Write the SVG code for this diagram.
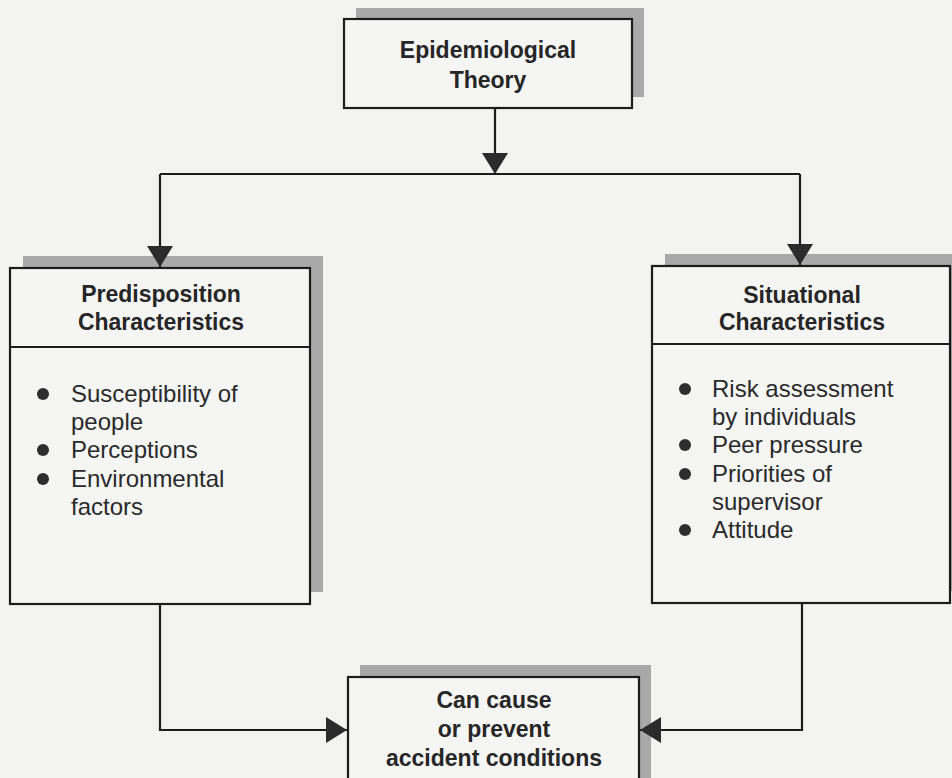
<svg xmlns="http://www.w3.org/2000/svg" width="952" height="778" viewBox="0 0 952 778">
  <style>
    .bg { fill: #f3f3f2; }
    .shadow { fill: #a9a9a9; }
    .box { fill: #f5f5f4; stroke: #1c1c1c; stroke-width: 2.2; }
    .div { stroke: #1c1c1c; stroke-width: 2; }
    .head { font-family: "Liberation Sans", Arial, sans-serif; font-weight: bold; font-size: 23px; fill: #262626; text-anchor: middle; }
    .body { font-family: "Liberation Sans", Arial, sans-serif; font-size: 24px; fill: #2a2a2a; }
    .bullet { fill: #2e2e2e; }
    .conn { fill: none; stroke: #1c1c1c; stroke-width: 2.2; }
  </style>
  <defs>
    <marker id="arrow" markerUnits="userSpaceOnUse" markerWidth="21" markerHeight="26" refX="21" refY="13" orient="auto">
      <path d="M0,0 L21,13 L0,26 z" fill="#2b2b2b"/>
    </marker>
  </defs>
  <rect class="bg" x="0" y="0" width="952" height="778"/>

  <g id="epidemiological-theory">
    <rect class="shadow" x="356" y="8" width="288" height="89"/>
    <rect class="box" x="344" y="19" width="288" height="89"/>
    <text class="head" x="488" y="58">Epidemiological</text>
    <text class="head" x="488" y="88">Theory</text>
  </g>

  <g id="predisposition-characteristics">
    <rect class="shadow" x="23" y="256" width="300" height="336"/>
    <rect class="box" x="10" y="268" width="300" height="336"/>
    <line class="div" x1="10" y1="347" x2="310" y2="347"/>
    <text class="head" x="161" y="302">Predisposition</text>
    <text class="head" x="161" y="330">Characteristics</text>
    <circle class="bullet" cx="43" cy="394" r="6"/>
    <text class="body" x="71" y="402">Susceptibility of</text>
    <text class="body" x="71" y="430">people</text>
    <circle class="bullet" cx="43" cy="450" r="6"/>
    <text class="body" x="71" y="458">Perceptions</text>
    <circle class="bullet" cx="43" cy="479" r="6"/>
    <text class="body" x="71" y="487">Environmental</text>
    <text class="body" x="71" y="515">factors</text>
  </g>

  <g id="situational-characteristics">
    <rect class="shadow" x="665" y="254" width="300" height="337"/>
    <rect class="box" x="652" y="266" width="298" height="337"/>
    <line class="div" x1="652" y1="344" x2="950" y2="344"/>
    <text class="head" x="802" y="303">Situational</text>
    <text class="head" x="802" y="330">Characteristics</text>
    <circle class="bullet" cx="685" cy="389" r="6"/>
    <text class="body" x="712" y="397">Risk assessment</text>
    <text class="body" x="712" y="425">by individuals</text>
    <circle class="bullet" cx="685" cy="445" r="6"/>
    <text class="body" x="712" y="453">Peer pressure</text>
    <circle class="bullet" cx="685" cy="474" r="6"/>
    <text class="body" x="712" y="482">Priorities of</text>
    <text class="body" x="712" y="510">supervisor</text>
    <circle class="bullet" cx="685" cy="530" r="6"/>
    <text class="body" x="712" y="538">Attitude</text>
  </g>

  <g id="accident-conditions">
    <rect class="shadow" x="360" y="665" width="291" height="130"/>
    <rect class="box" x="348" y="677" width="291" height="130"/>
    <text class="head" x="494" y="708">Can cause</text>
    <text class="head" x="494" y="737">or prevent</text>
    <text class="head" x="494" y="766">accident conditions</text>
  </g>

  <g id="connectors">
    <path class="conn" d="M495,108 L495,174" marker-end="url(#arrow)"/>
    <path class="conn" d="M160,174 L800,174"/>
    <path class="conn" d="M160,174 L160,267" marker-end="url(#arrow)"/>
    <path class="conn" d="M800,174 L800,265" marker-end="url(#arrow)"/>
    <path class="conn" d="M160,604 L160,730 L347,730" marker-end="url(#arrow)"/>
    <path class="conn" d="M802,603 L802,730 L640,730" marker-end="url(#arrow)"/>
  </g>
</svg>
